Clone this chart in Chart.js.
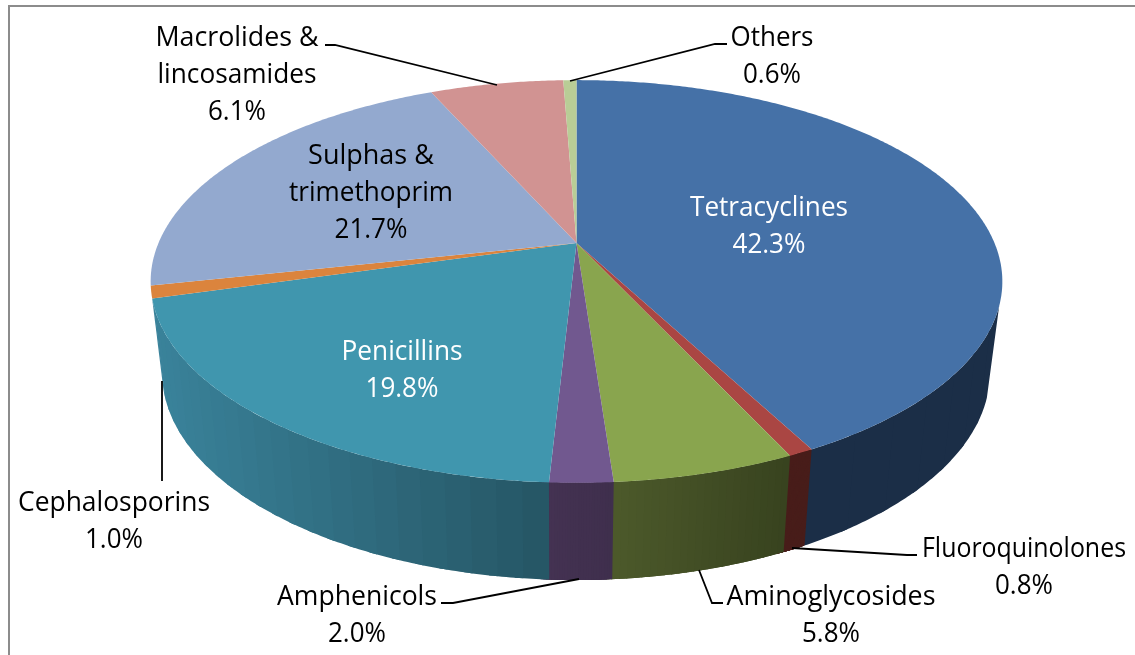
<!DOCTYPE html>
<html>
<head>
<meta charset="utf-8">
<title>Antimicrobial classes</title>
<script src="https://cdn.jsdelivr.net/npm/chart.js@4/dist/chart.umd.min.js"></script>
<style>
    html, body { margin: 0; padding: 0; background: #fff; overflow: hidden; }
    canvas { display: block; }
</style>
</head>
<body>
<canvas id="chart" width="1135" height="655"></canvas>
<script>
const categories = ['Tetracyclines', 'Fluoroquinolones', 'Aminoglycosides', 'Amphenicols', 'Penicillins',
    'Cephalosporins', 'Sulphas & trimethoprim', 'Macrolides & lincosamides', 'Others'];
const shares = [42.3, 0.8, 5.8, 2.0, 19.8, 1.0, 21.7, 6.1, 0.6];
const topColors = ['#4571a7', '#aa4643', '#89a54e', '#71588f', '#4096ae', '#db843d', '#93a9cf', '#d19392', '#b9cd96'];
const wallFrom = ['#1b2e47', '#481d1a', '#38431f', '#3f2f4d', '#265766', '#3a839b', '#3a839b', '#3a839b', '#3a839b'];
const wallTo = ['#1b2e47', '#481d1a', '#4d5a2b', '#443252', '#3a839b', '#3a839b', '#3a839b', '#3a839b', '#3a839b'];

// label text blocks: centre x, first line y, lines with the width each has in the picture, colour
const labelBlocks = [
    { x: 769, y: 208, lines: [['Tetracyclines', 158]], color: '#fff' },
    { x: 1024, y: 549, lines: [['Fluoroquinolones', 204]], color: '#000' },
    { x: 831, y: 597, lines: [['Aminoglycosides', 209]], color: '#000' },
    { x: 357, y: 597, lines: [['Amphenicols', 160]], color: '#000' },
    { x: 402, y: 352, lines: [['Penicillins', 121]], color: '#fff' },
    { x: 114, y: 503, lines: [['Cephalosporins', 192]], color: '#000' },
    { x: 371, y: 156, lines: [['Sulphas &', 126], ['trimethoprim', 164]], color: '#000' },
    { x: 237, y: 38, lines: [['Macrolides &', 163], ['lincosamides', 159]], color: '#000' },
    { x: 772, y: 38, lines: [['Others', 83]], color: '#000' }
];
const leaders = [
    [[325, 45], [335, 45], [497, 85]],
    [[727, 44], [715, 44], [570, 81]],
    [[917, 555], [907, 555], [792, 548]],
    [[723, 603], [712, 603], [699, 570]],
    [[441, 603], [453, 603], [579, 579]],
    [[162, 481], [162, 381]]
];

// perspective of the pie disc, fitted on the rim of the picture
const disc = { cx: 576.5, cy: 243, c: 418, a: 194, k: 0.191 };
const wall = { cx: 576, scaleX: 0.972, dy: 90, scaleY: 1.03, minY: 54, bands: 24 };

function project(theta) {
    const u = Math.sin(theta);
    const v = -Math.cos(theta);
    const w = 1 - disc.k * v;
    return { X: disc.c * u / w, Y: disc.a * v / w };
}

function topPoint(theta) {
    const p = project(theta);
    return [disc.cx + p.X, disc.cy + p.Y];
}

function bottomPoint(theta) {
    const p = project(theta);
    return [wall.cx + p.X * wall.scaleX, disc.cy + wall.dy + p.Y * wall.scaleY];
}

function mix(hexA, hexB, t) {
    const a = parseInt(hexA.slice(1), 16);
    const b = parseInt(hexB.slice(1), 16);
    const ch = function (shift) {
        const va = (a >> shift) & 255;
        const vb = (b >> shift) & 255;
        return Math.round(va + (vb - va) * t);
    };
    return 'rgb(' + ch(16) + ',' + ch(8) + ',' + ch(0) + ')';
}

function fillWallBand(ctx, from, to, color) {
    const steps = Math.max(1, Math.ceil((to - from) / (Math.PI / 360)));
    const back = [];
    ctx.beginPath();
    for (let s = 0; s <= steps; s++) {
        const t = from + (to - from) * s / steps;
        const p = topPoint(t);
        back.push(bottomPoint(t));
        if (s === 0) ctx.moveTo(p[0], p[1]);
        else ctx.lineTo(p[0], p[1]);
    }
    back.reverse().forEach(function (p) {
        ctx.lineTo(p[0], p[1]);
    });
    ctx.closePath();
    ctx.fillStyle = color;
    ctx.fill();
}

const pie3d = {
    id: 'pie3d',
    beforeDatasetDraw(chart, args) {
        const ctx = chart.ctx;
        const arcs = args.meta.data;
        const overlap = Math.PI / 180;

        // walls first, the top of the disc goes over them
        arcs.forEach(function (arc, i) {
            const start = arc.startAngle + Math.PI / 2;
            const end = arc.endAngle + Math.PI / 2;
            const xStart = project(start).X;
            const xEnd = project(end).X;
            for (let b = 0; b < wall.bands; b++) {
                const t0 = start + (end - start) * b / wall.bands;
                let t1 = start + (end - start) * (b + 1) / wall.bands;
                if (project(t0).Y < wall.minY || project(t1).Y < wall.minY) continue;
                // shade runs with the horizontal position on the wall
                const shade = xStart === xEnd ? 0 : (project(t0).X - xStart) / (xEnd - xStart);
                if (project(t1 + overlap).Y >= wall.minY) t1 += overlap;
                fillWallBand(ctx, t0, t1, mix(wallFrom[i], wallTo[i], shade));
            }
        });

        arcs.forEach(function (arc) {
            const start = arc.startAngle + Math.PI / 2;
            const end = arc.endAngle + Math.PI / 2;
            const n = Math.max(2, Math.ceil((end - start) / (Math.PI / 360)));
            ctx.beginPath();
            ctx.moveTo(disc.cx, disc.cy);
            for (let s = 0; s <= n; s++) {
                const p = topPoint(start + (end - start) * s / n);
                ctx.lineTo(p[0], p[1]);
            }
            ctx.closePath();
            ctx.fillStyle = arc.options.backgroundColor;
            ctx.fill();
        });
        return false;
    },
    afterDatasetsDraw(chart) {
        const ctx = chart.ctx;

        // outer frame
        ctx.strokeStyle = '#8c8c8c';
        ctx.lineWidth = 2;
        ctx.beginPath();
        ctx.moveTo(9, 655);
        ctx.lineTo(9, 6);
        ctx.lineTo(1135, 6);
        ctx.stroke();

        // leader lines
        ctx.strokeStyle = '#000';
        ctx.lineWidth = 1.8;
        leaders.forEach(function (pts) {
            ctx.beginPath();
            pts.forEach(function (p, j) {
                if (j === 0) ctx.moveTo(p[0], p[1]);
                else ctx.lineTo(p[0], p[1]);
            });
            ctx.stroke();
        });

        // labels
        ctx.font = '27px "Open Sans"';
        ctx.textAlign = 'center';
        ctx.textBaseline = 'middle';
        labelBlocks.forEach(function (block, i) {
            const percent = shares[i].toFixed(1) + '%';
            const lines = block.lines.concat([[percent, percent.length > 4 ? 73 : 58]]);
            ctx.fillStyle = block.color;
            lines.forEach(function (line, j) {
                ctx.fillText(line[0], block.x, block.y + j * 37.4, line[1]);
            });
        });
    }
};

new Chart(document.getElementById('chart').getContext('2d'), {
    type: 'pie',
    data: {
        labels: categories,
        datasets: [{ data: shares, backgroundColor: topColors, borderWidth: 0 }]
    },
    options: {
        responsive: false,
        animation: false,
        events: [],
        plugins: {
            legend: { display: false },
            tooltip: { enabled: false }
        }
    },
    plugins: [pie3d]
});
</script>
</body>
</html>
